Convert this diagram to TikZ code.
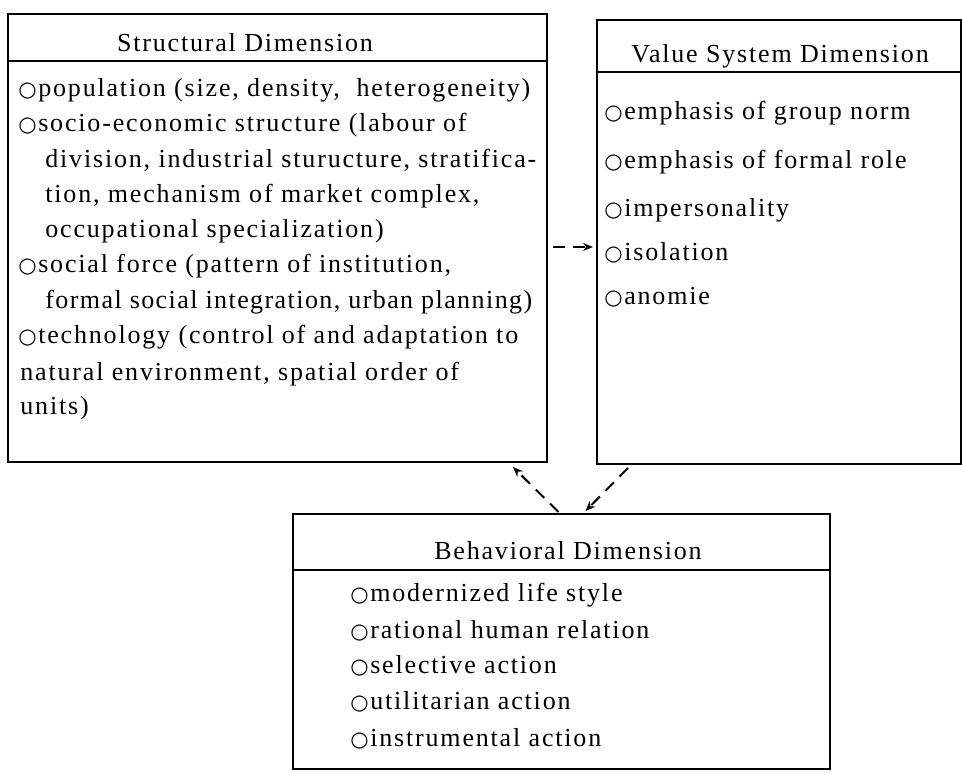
\documentclass[tikz,border=0pt]{standalone}
\usepackage{fontspec}
\setmainfont{Liberation Serif}[LetterSpace=7]
\newfontfamily\symfnt{DejaVu Sans}
\usetikzlibrary{arrows.meta}
\newcommand\oc{{\symfnt\fontsize{10.5}{10}\selectfont ○}\hspace{0.8pt}}
\begin{document}
\begin{tikzpicture}[x=0.5pt,y=-0.5pt,
  txt/.style={anchor=base west, inner sep=0pt, font=\fontsize{13}{15}\selectfont},
  head/.style={anchor=base, inner sep=0pt, font=\fontsize{13}{15}\selectfont},
  box/.style={draw, line width=1pt, anchor=north west, inner sep=0pt, outer sep=0pt},
  sepline/.style={line width=1pt},
  dasharrow/.style={line width=1pt, dash pattern=on 6pt off 4pt, -{Stealth[length=5pt,width=4pt]}}]
\useasboundingbox (0,0) rectangle (962,774);
% boxes
\node[box, minimum width=269.5pt, minimum height=224pt] (S) at (8,14) {};
\node[box, minimum width=182pt, minimum height=222pt] (V) at (597,20) {};
\node[box, minimum width=268.5pt, minimum height=127.5pt] (B) at (293,514) {};
% header separators
\path (S.north west) ++(0,-23.5pt) coordinate (s0l) (S.north east) ++(0,-23.5pt) coordinate (s0r);
\draw[sepline] (s0l) -- (s0r);
\path (V.north west) ++(0,-26pt) coordinate (v0l) (V.north east) ++(0,-26pt) coordinate (v0r);
\draw[sepline] (v0l) -- (v0r);
\path (B.north west) ++(0,-28pt) coordinate (b0l) (B.north east) ++(0,-28pt) coordinate (b0r);
\draw[sepline] (b0l) -- (b0r);
% structural
\node[head] (sh) at (245,52) {Structural Dimension};
\node[txt] (s1) at (18,97) {\oc population (size, density,\ \ heterogeneity)};
\node[txt] (s2) at (18,132) {\oc socio-economic structure (labour of};
\node[txt] (s3) at (45,168) {division, industrial sturucture, stratifica-};
\node[txt] (s4) at (45,203) {tion, mechanism of market complex,};
\node[txt] (s5) at (45,238) {occupational specialization)};
\node[txt] (s6) at (18,273) {\oc social force (pattern of institution,};
\node[txt] (s7) at (45,309) {\addfontfeature{LetterSpace=5.5}formal social integration, urban planning)};
\node[txt] (s8) at (18,344) {\oc technology (control of and adaptation to};
\node[txt] (s9) at (20,380) {natural environment, spatial order of};
\node[txt] (s10) at (20,415) {units)};
% value
\node[head] (vh) at (780,63) {Value System Dimension};
\node[txt] (v1) at (604,120) {\oc emphasis of group norm};
\node[txt] (v2) at (604,169) {\oc emphasis of formal role};
\node[txt] (v3) at (604,217) {\oc impersonality};
\node[txt] (v4) at (604,261) {\oc isolation};
\node[txt] (v5) at (604,305) {\oc anomie};
% behavioral
\node[head] (bh) at (568,559) {Behavioral Dimension};
\node[txt] (b1) at (350,601) {\oc modernized life style};
\node[txt] (b2) at (350,638) {\oc rational human relation};
\node[txt] (b3) at (350,673) {\oc selective action};
\node[txt] (b4) at (350,709) {\oc utilitarian action};
\node[txt] (b5) at (350,746) {\oc instrumental action};
% connectors
\draw[dasharrow] ([xshift=3pt,yshift=-4.5pt]S.east) -- ([xshift=-2pt,yshift=-2.5pt]V.west);
\draw[dasharrow] ([xshift=-1.5pt,yshift=1pt]B.north) -- ([xshift=-17pt,yshift=-2.5pt]S.south east);
\draw[dasharrow] ([xshift=15.5pt,yshift=-2pt]V.south west) -- ([xshift=12pt,yshift=1.5pt]B.north);
\end{tikzpicture}
\end{document}
